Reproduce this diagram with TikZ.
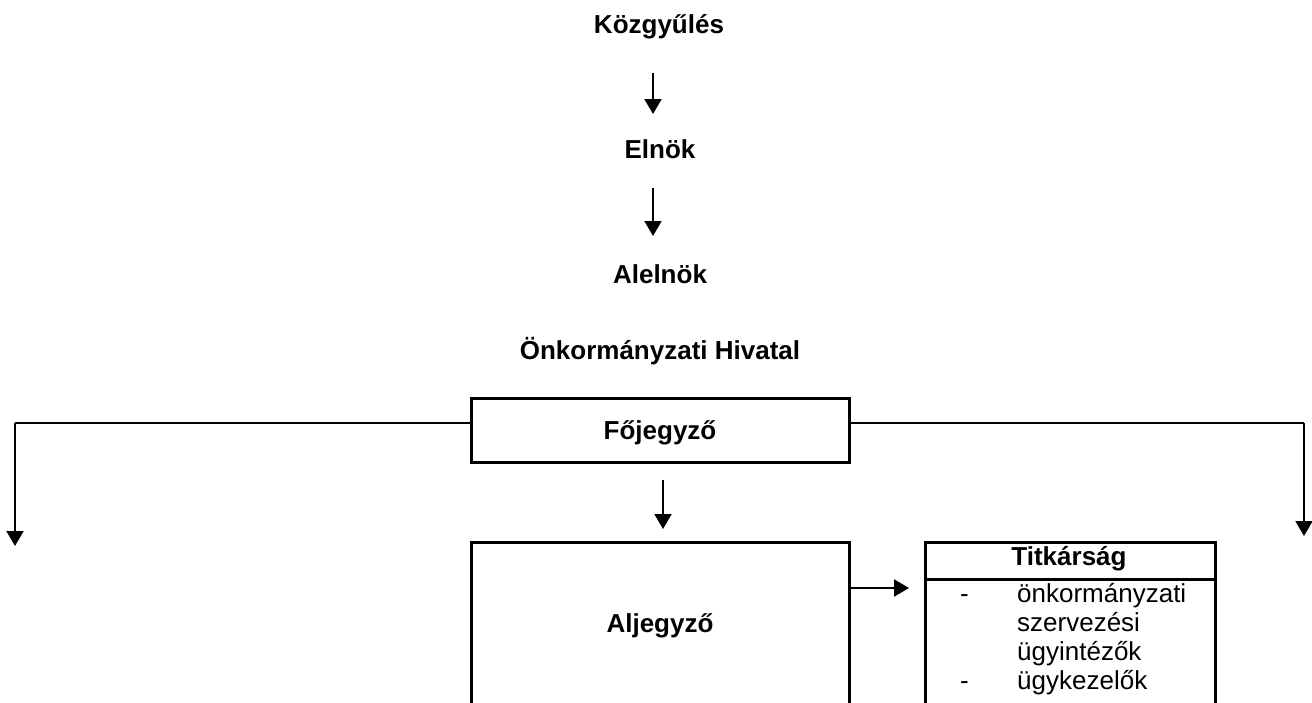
\documentclass[tikz,border=0pt]{standalone}
\usepackage{fontspec}
\setmainfont{Liberation Sans}
\usetikzlibrary{arrows.meta}
\tikzset{
  lbl/.style={anchor=base, inner sep=0pt, font=\fontsize{26}{27}\selectfont\bfseries},
  txt/.style={anchor=base west, inner sep=0pt, font=\fontsize{26}{27}\selectfont},
  box/.style={draw, line width=3pt, inner sep=0pt},
  arr/.style={line width=2pt, -{Triangle[length=15pt,width=17pt]}},
  conn/.style={line width=2.5pt},
}
\begin{document}
\begin{tikzpicture}[x=1pt,y=-1pt]
\useasboundingbox (0,0) rectangle (1312,702);
\clip (0,0) rectangle (1312,702);
% titles
\node[lbl] (kozgy) at (659,33) {Közgyűlés};
\node[lbl] (elnok) at (660,158) {Elnök};
\node[lbl] (alelnok) at (660,283) {Alelnök};
\node[lbl] (hivatal) at (660,359) {Önkormányzati Hivatal};
% arrows between titles
\coordinate (a1s) at (653,73); \coordinate (a1e) at (653,114);
\coordinate (a2s) at (653,188); \coordinate (a2e) at (653,236);
\draw[arr] (a1s) -- (a1e);
\draw[arr] (a2s) -- (a2e);
% Fojegyzo box
\node[box, minimum width=378pt, minimum height=64pt] (fo) at (660,430) {};
\node[lbl] (folbl) at (660,439) {Főjegyző};
% Aljegyzo box
\node[box, minimum width=378pt, minimum height=180pt, anchor=north] (alj) at (660,541) {};
\node[lbl] (aljlbl) at (660,632) {Aljegyző};
% Titkarsag box
\node[box, minimum width=290pt, minimum height=37pt, anchor=north west] (titkhead) at (924,541) {};
\node[box, minimum width=290pt, minimum height=160pt, anchor=north west] (titkbody) at (924,578) {};
\node[lbl] (titklbl) at (1069,565) {Titkárság};
\node[txt] (d1) at (960,602) {-};
\node[txt] (t1) at (1017,602) {önkormányzati};
\node[txt] (t2) at (1017,631) {szervezési};
\node[txt] (t3) at (1017,660) {ügyintézők};
\node[txt] (d2) at (960,689) {-};
\node[txt] (t4) at (1017,689) {ügykezelők};
% connectors
\coordinate (lc) at (15,423);
\coordinate (le) at (15,546);
\coordinate (rc) at (1304,423);
\coordinate (re) at (1304,536);
\draw[conn] (fo.west |- lc) -- (lc);
\draw[arr] (lc) -- (le);
\draw[conn] (fo.east |- rc) -- (rc);
\draw[arr] (rc) -- (re);
\coordinate (a3s) at (663,480); \coordinate (a3e) at (663,529);
\draw[arr] (a3s) -- (a3e);
\coordinate (a4e) at (909,588);
\draw[arr] (alj.east |- a4e) -- (a4e);
\end{tikzpicture}
\end{document}
